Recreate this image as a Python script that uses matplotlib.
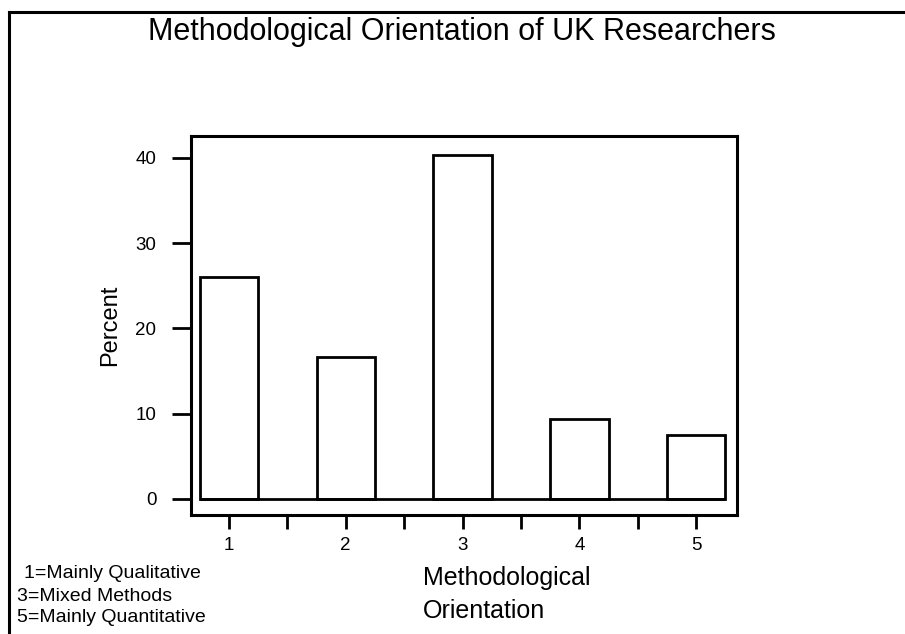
import matplotlib
matplotlib.use("Agg")
import matplotlib.pyplot as plt
from matplotlib.lines import Line2D

categories = [1, 2, 3, 4, 5]
percent = [26.0, 16.6, 40.3, 9.4, 7.5]
yticks = [0, 10, 20, 30, 40]
title = "Methodological Orientation of UK Researchers"
xlabel_lines = ["Methodological", "Orientation"]
ylabel = "Percent"
key_lines = ["1=Mainly Qualitative", "3=Mixed Methods", "5=Mainly Quantitative"]

plt.rcParams['font.family'] = ['Liberation Sans', 'DejaVu Sans']

W, H = 905, 634
fig = plt.figure(figsize=(W / 100, H / 100), dpi=100)

def P(x, y):
    return (x / W, 1 - y / H)

# figure border (top and left only)
fig.add_artist(Line2D([9 / W, 1], [1 - 12 / H] * 2, color='black', lw=2.2, transform=fig.transFigure))
fig.add_artist(Line2D([9 / W] * 2, [0, 1 - 12 / H], color='black', lw=2.2, transform=fig.transFigure))

ax = fig.add_axes([191 / W, (H - 515) / H, 546 / W, 379 / H])
ax.bar(categories, percent, width=0.5, color='white', edgecolor='black', linewidth=2.0, zorder=3)
ax.hlines(0, categories[0] - 0.25, categories[-1] + 0.25, color='black', lw=2.0, zorder=4)

ax.set_xlim(0.675, 5.35)
ax.set_ylim(-1.88, 42.55)
ax.set_yticks(yticks)
ax.set_yticklabels([str(v) for v in yticks], fontsize=13.5)
ax.set_xticks(categories)
ax.set_xticklabels([str(c) for c in categories], fontsize=13.5)
ax.set_xticks([c + 0.5 for c in categories[:-1]], minor=True)
ax.tick_params(axis='y', direction='out', length=14, width=2.0, pad=11)
ax.tick_params(axis='x', which='both', direction='out', length=10, width=2.0, pad=6)
for s in ax.spines.values():
    s.set_linewidth(2.2)

ax.set_ylabel(ylabel, fontsize=17, labelpad=10)

fig.text(*P(462, 40), title, fontsize=22, ha='center', va='baseline')
fig.text(*P(423, 585), xlabel_lines[0], fontsize=18, ha='left', va='baseline')
fig.text(*P(423, 618), xlabel_lines[1], fontsize=18, ha='left', va='baseline')

fig.text(*P(24, 578), key_lines[0], fontsize=14, ha='left', va='baseline')
fig.text(*P(17, 601), key_lines[1], fontsize=14, ha='left', va='baseline')
fig.text(*P(17, 622), key_lines[2], fontsize=14, ha='left', va='baseline')

fig.savefig("out.png", dpi=100)
